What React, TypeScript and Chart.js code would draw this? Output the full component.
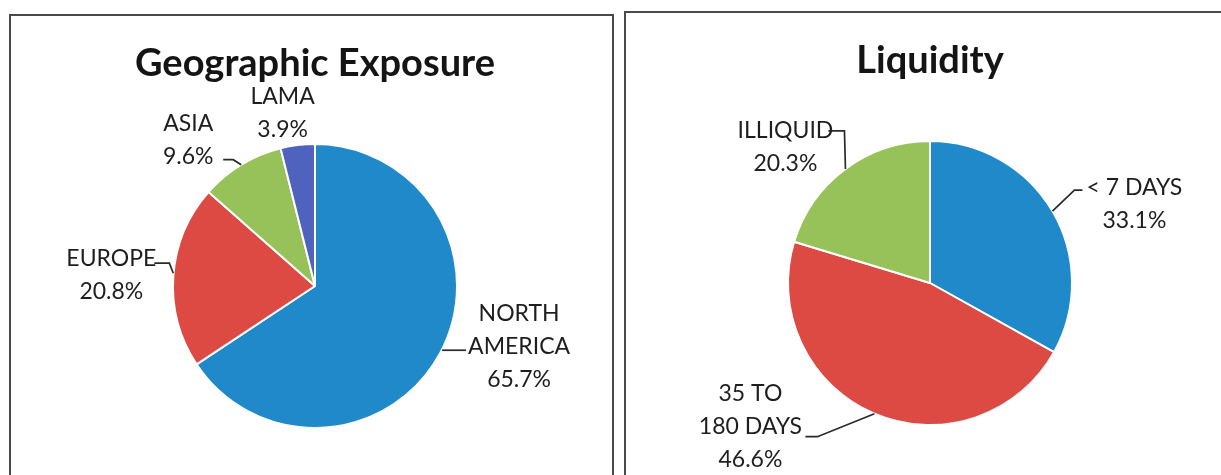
import React, { useEffect, useRef } from "react";
import { Chart, registerables } from "chart.js";

Chart.register(...registerables);

// ---------- data ----------
const geoTitle = "Geographic Exposure";
const geoCategories = ["NORTH AMERICA", "EUROPE", "ASIA", "LAMA"];
const geoLabelLines = [["NORTH", "AMERICA"], ["EUROPE"], ["ASIA"], ["LAMA"]];
const geoValues = [65.7, 20.8, 9.6, 3.9];
const geoColors = ["#2089CA", "#DC4A43", "#97C25A", "#4E62BE"];

const liqTitle = "Liquidity";
const liqCategories = ["< 7 DAYS", "35 TO 180 DAYS", "ILLIQUID"];
const liqLabelLines = [["< 7 DAYS"], ["35 TO", "180 DAYS"], ["ILLIQUID"]];
const liqValues = [33.1, 46.6, 20.3];
const liqColors = ["#2089CA", "#DC4A43", "#97C25A"];

// ---------- label layout (offsets from the slice's mid-angle edge point) ----------
type Placement = { dx: number; dy: number; leader: number[][] };
const geoPlacement: Placement[] = [
  { dx: 79, dy: -7, leader: [[2, -3], [26, -3]] },
  { dx: -62, dy: -1.5, leader: [[0, -3], [-4, -13], [-19, -13]] },
  { dx: -53, dy: -25, leader: [[0, 0], [-8, -5], [-18, -5]] },
  { dx: -15, dy: -31.5, leader: [] },
];
const liqPlacement: Placement[] = [
  { dx: 82, dy: -6.6, leader: [[0, 0], [22, -21], [30, -21]] },
  { dx: -124, dy: 13.4, leader: [[0, 0], [-57, 23], [-69, 23]] },
  { dx: -60, dy: -21.5, leader: [[0, 0], [-1, -38], [-17, -38]] },
];

const FONT = "Lato, 'Open Sans', sans-serif";
const LABEL_SIZE = 23;
const LINE_H = 33;

const pieLabelPlugin = {
  id: "pieLabels",
  afterDraw(chart: any, _args: any, opts: any) {
    const ctx = chart.ctx as CanvasRenderingContext2D;
    const meta = chart.getDatasetMeta(0);
    const values = chart.data.datasets[0].data as number[];
    const lines: string[][] = opts.lines;
    const place: Placement[] = opts.placement;
    ctx.save();
    meta.data.forEach((arc: any, i: number) => {
      const p = arc.getProps(["x", "y", "startAngle", "endAngle", "outerRadius"], true);
      const mid = (p.startAngle + p.endAngle) / 2;
      const ex = p.x + Math.cos(mid) * p.outerRadius;
      const ey = p.y + Math.sin(mid) * p.outerRadius;
      const pl = place[i];
      if (pl.leader.length > 1) {
        ctx.beginPath();
        ctx.strokeStyle = "#2a2a2a";
        ctx.lineWidth = 1.7;
        pl.leader.forEach((pt, k) => {
          if (k === 0) ctx.moveTo(ex + pt[0], ey + pt[1]);
          else ctx.lineTo(ex + pt[0], ey + pt[1]);
        });
        ctx.stroke();
      }
      const textLines = [...lines[i], values[i].toFixed(1) + "%"];
      const cx = ex + pl.dx;
      const cy = ey + pl.dy;
      ctx.fillStyle = "#1e1e1e";
      ctx.font = `${LABEL_SIZE}px ${FONT}`;
      ctx.textAlign = "center";
      ctx.textBaseline = "middle";
      textLines.forEach((t, k) => {
        ctx.fillText(t, cx, cy + (k - (textLines.length - 1) / 2) * LINE_H);
      });
    });
    ctx.restore();
  },
};

function PieBox(props: {
  title: string;
  categories: string[];
  values: number[];
  colors: string[];
  lines: string[][];
  placement: Placement[];
  left: number;
  top: number;
}) {
  const ref = useRef<HTMLCanvasElement | null>(null);
  useEffect(() => {
    if (!ref.current) return;
    const chart = new Chart(ref.current, {
      type: "pie",
      data: {
        labels: props.categories,
        datasets: [
          {
            data: props.values,
            backgroundColor: props.colors,
            borderColor: "#ffffff",
            borderWidth: 2,
          },
        ],
      },
      options: {
        responsive: false,
        animation: false,
        events: [],
        layout: { padding: { left: 8, right: 0, top: 0, bottom: 46 } },
        plugins: {
          legend: { display: false },
          tooltip: { enabled: false },
          title: {
            display: true,
            text: props.title,
            color: "#141414",
            font: { family: FONT, size: 38, weight: "bold" },
            padding: { top: 25, bottom: 56.4 },
          },
          // @ts-ignore
          pieLabels: { lines: props.lines, placement: props.placement },
        },
      } as any,
      plugins: [pieLabelPlugin],
    });
    return () => chart.destroy();
  }, []);
  return (
    <canvas
      ref={ref}
      width={600}
      height={459}
      style={{ position: "absolute", left: props.left, top: props.top, width: 600, height: 459 }}
    />
  );
}

export default function App() {
  return (
    <div
      style={{
        position: "fixed",
        left: 0,
        top: 0,
        width: 1221,
        height: 475,
        overflow: "hidden",
        background: "#ffffff",
      }}
    >
      <div
        style={{
          position: "absolute",
          left: 9,
          top: 14,
          width: 605,
          height: 480,
          border: "2px solid #4a4a4a",
          boxSizing: "border-box",
        }}
      />
      <div
        style={{
          position: "absolute",
          left: 624,
          top: 11,
          width: 620,
          height: 480,
          border: "2px solid #4a4a4a",
          boxSizing: "border-box",
        }}
      />
      <PieBox
        title={geoTitle}
        categories={geoCategories}
        values={geoValues}
        colors={geoColors}
        lines={geoLabelLines}
        placement={geoPlacement}
        left={11}
        top={16}
      />
      <PieBox
        title={liqTitle}
        categories={liqCategories}
        values={liqValues}
        colors={liqColors}
        lines={liqLabelLines}
        placement={liqPlacement}
        left={626}
        top={13}
      />
    </div>
  );
}
